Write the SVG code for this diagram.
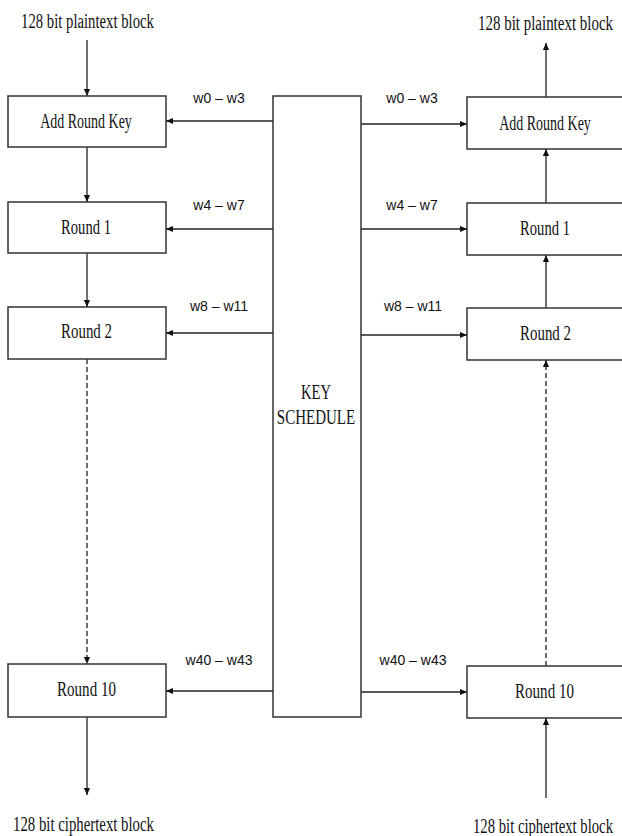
<svg xmlns="http://www.w3.org/2000/svg" width="622" height="836" viewBox="0 0 622 836">
<style>
.box{fill:#fff;stroke:#333;stroke-width:1.5}
.ln{fill:none;stroke:#222;stroke-width:1.3}
.dash{stroke-dasharray:5 3}
.serif{font-family:"Liberation Serif","Times New Roman",serif;font-size:20px;fill:#111;text-anchor:middle}
.sans{font-family:"Liberation Sans",Arial,sans-serif;font-size:14px;fill:#111;text-anchor:middle}
</style>
<defs>
<marker id="ah" viewBox="0 0 8 8" refX="8" refY="4" markerWidth="7" markerHeight="7" markerUnits="userSpaceOnUse" orient="auto">
<path d="M0,0.5 L8,4 L0,7.5 z" fill="#111"/>
</marker>
</defs>
<rect width="622" height="836" fill="#fff"/>

<g id="connectors">
<line class="ln" x1="87" y1="40" x2="87" y2="96" marker-end="url(#ah)"/>
<line class="ln" x1="87" y1="147" x2="87" y2="202" marker-end="url(#ah)"/>
<line class="ln" x1="87" y1="253" x2="87" y2="307" marker-end="url(#ah)"/>
<line class="ln dash" x1="87" y1="359" x2="87" y2="664" marker-end="url(#ah)"/>
<line class="ln" x1="87" y1="717" x2="87" y2="795" marker-end="url(#ah)"/>
<line class="ln" x1="546" y1="149" x2="546" y2="43" marker-end="url(#ah)"/>
<line class="ln" x1="546" y1="203" x2="546" y2="149" marker-end="url(#ah)"/>
<line class="ln" x1="546" y1="308" x2="546" y2="255" marker-end="url(#ah)"/>
<line class="ln dash" x1="546" y1="666" x2="546" y2="360" marker-end="url(#ah)"/>
<line class="ln" x1="546" y1="798" x2="546" y2="718" marker-end="url(#ah)"/>
<line class="ln" x1="273" y1="121" x2="166" y2="121" marker-end="url(#ah)"/>
<line class="ln" x1="273" y1="229" x2="166" y2="229" marker-end="url(#ah)"/>
<line class="ln" x1="273" y1="333" x2="166" y2="333" marker-end="url(#ah)"/>
<line class="ln" x1="273" y1="691" x2="166" y2="691" marker-end="url(#ah)"/>
<line class="ln" x1="361" y1="124" x2="467" y2="124" marker-end="url(#ah)"/>
<line class="ln" x1="361" y1="229" x2="467" y2="229" marker-end="url(#ah)"/>
<line class="ln" x1="361" y1="335" x2="467" y2="335" marker-end="url(#ah)"/>
<line class="ln" x1="361" y1="692" x2="467" y2="692" marker-end="url(#ah)"/>
<text class="sans" x="219" y="103">w0 – w3</text>
<text class="sans" x="219" y="210">w4 – w7</text>
<text class="sans" x="219" y="311">w8 – w11</text>
<text class="sans" x="219" y="665">w40 – w43</text>
<text class="sans" x="412" y="103">w0 – w3</text>
<text class="sans" x="412" y="210">w4 – w7</text>
<text class="sans" x="413" y="311">w8 – w11</text>
<text class="sans" x="413" y="665">w40 – w43</text>
</g>

<g id="enc-input"><text class="serif" transform="translate(87.5,28) scale(0.736,1)">128 bit plaintext block</text></g>
<g id="enc-output"><text class="serif" transform="translate(83.5,831) scale(0.74,1)">128 bit ciphertext block</text></g>
<g id="dec-output"><text class="serif" transform="translate(545.5,30) scale(0.748,1)">128 bit plaintext block</text></g>
<g id="dec-input"><text class="serif" transform="translate(543,833) scale(0.735,1)">128 bit ciphertext block</text></g>

<g id="enc-ark"><rect class="box" x="8" y="96" width="158" height="51"/><text class="serif" transform="translate(86,128) scale(0.7,1)">Add Round Key</text></g>
<g id="enc-r1"><rect class="box" x="8" y="202" width="158" height="51"/><text class="serif" transform="translate(86,234) scale(0.73,1)">Round 1</text></g>
<g id="enc-r2"><rect class="box" x="8" y="307" width="158" height="52"/><text class="serif" transform="translate(86.5,338) scale(0.745,1)">Round 2</text></g>
<g id="enc-r10"><rect class="box" x="8" y="664" width="158" height="53"/><text class="serif" transform="translate(86.5,696) scale(0.753,1)">Round 10</text></g>

<g id="key-schedule"><rect class="box" x="273" y="96" width="88" height="621"/>
<text class="serif" transform="translate(316,399) scale(0.73,1)">KEY</text>
<text class="serif" transform="translate(316,424) scale(0.75,1)">SCHEDULE</text></g>

<g id="dec-ark"><rect class="box" x="467" y="97" width="160" height="52"/><text class="serif" transform="translate(545,130) scale(0.7,1)">Add Round Key</text></g>
<g id="dec-r1"><rect class="box" x="467" y="203" width="160" height="52"/><text class="serif" transform="translate(545,235) scale(0.73,1)">Round 1</text></g>
<g id="dec-r2"><rect class="box" x="467" y="308" width="160" height="52"/><text class="serif" transform="translate(545.5,340) scale(0.745,1)">Round 2</text></g>
<g id="dec-r10"><rect class="box" x="467" y="666" width="160" height="52"/><text class="serif" transform="translate(544.5,698) scale(0.753,1)">Round 10</text></g>
</svg>
